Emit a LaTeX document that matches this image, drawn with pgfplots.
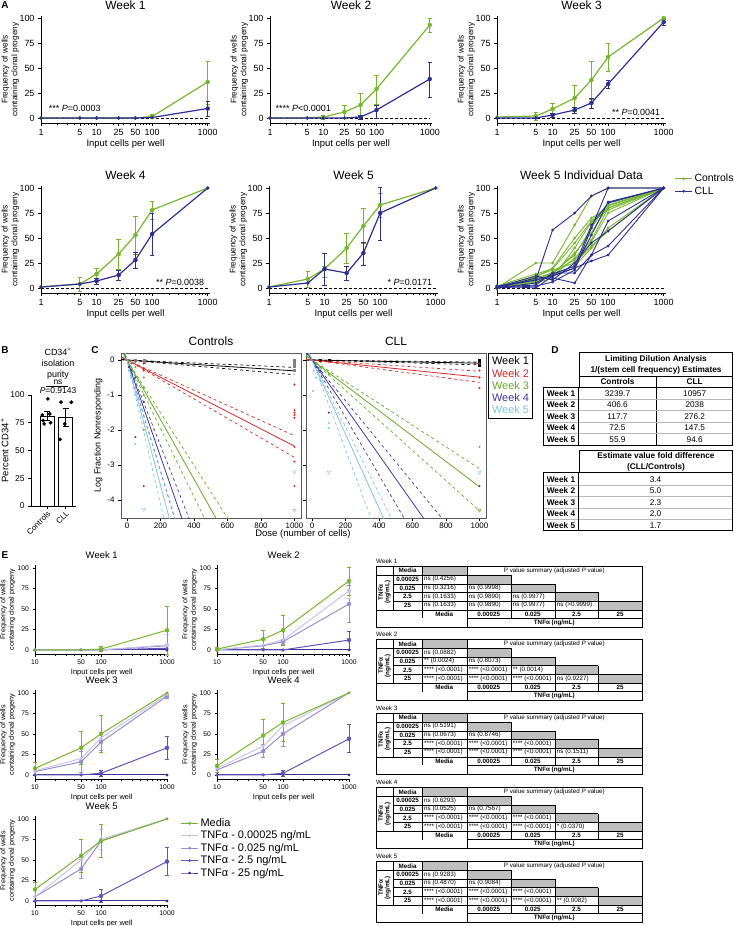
\documentclass[border=0pt]{standalone}
\usepackage{pgfplots}
\pgfplotsset{compat=1.18}
\usepackage{fontspec}
\setmainfont{Liberation Sans}

\definecolor{cgreen}{RGB}{118,182,46}
\definecolor{cblue}{RGB}{44,46,145}
\definecolor{cred}{RGB}{215,40,40}
\definecolor{cw3}{RGB}{100,170,40}
\definecolor{cw4}{RGB}{60,55,160}
\definecolor{cw5}{RGB}{130,195,230}
\definecolor{tA}{RGB}{200,195,232}
\definecolor{tB}{RGB}{150,140,210}
\definecolor{tC}{RGB}{95,85,185}
\definecolor{tD}{RGB}{55,48,150}

\newcommand\fs[1]{\fontsize{#1}{#1}\selectfont}
\newcommand\Df{\fontsize{8.3}{9}\selectfont}
\newcommand\Ef{\fontsize{6.3}{6.5}\selectfont}
\newcommand\Ec[3]{\node[anchor=west,inner sep=0,font=\Ef] at (#1,#2) {#3};}

\newcommand\Etable[3]{%
\begin{scope}[x=1bp,y=-1bp,yshift=-#1bp]
\fill[gray!50] (422,0) rectangle (466.7,9);
\fill[gray!50] (466.7,9) rectangle (510.7,17.7);
\fill[gray!50] (510.7,17.7) rectangle (554.7,26.3);
\fill[gray!50] (554.7,26.3) rectangle (598.3,35);
\fill[gray!50] (598.3,35) rectangle (642,43.7);
\draw[line width=0.5pt] (376,0) rectangle (642,61.3);
\draw[line width=0.4pt] (393.3,0)--(393.3,43.7) (422,0)--(422,52.3) (466.7,0)--(466.7,61.3)
  (510.7,9)--(510.7,52.3) (554.7,17.7)--(554.7,52.3) (598.3,26.3)--(598.3,52.3)
  (376,9)--(510.7,9) (393.3,17.7)--(554.7,17.7) (393.3,26.3)--(598.3,26.3)
  (393.3,35)--(642,35) (376,43.7)--(642,43.7) (466.7,52.3)--(642,52.3);
\node[inner sep=0,font=\Ef\bfseries] at (407.6,4.5) {Media};
\node[inner sep=0,font=\Ef] at (554.3,4.5) {P value summary (adjusted \textit{P} value)};
\node[inner sep=0,font=\Ef\bfseries] at (407.6,13.35) {0.00025};
\node[inner sep=0,font=\Ef\bfseries] at (407.6,22) {0.025};
\node[inner sep=0,font=\Ef\bfseries] at (407.6,30.65) {2.5};
\node[inner sep=0,font=\Ef\bfseries] at (407.6,39.35) {25};
\node[inner sep=0,font=\Ef\bfseries] at (444.3,48) {Media};
\node[inner sep=0,font=\Ef\bfseries] at (488.7,48) {0.00025};
\node[inner sep=0,font=\Ef\bfseries] at (532.7,48) {0.025};
\node[inner sep=0,font=\Ef\bfseries] at (576.5,48) {2.5};
\node[inner sep=0,font=\Ef\bfseries] at (620.1,48) {25};
\node[inner sep=0,font=\Ef\bfseries] at (554.3,56.8) {TNFα (ng/mL)};
\node[inner sep=0,font=\Ef\bfseries,rotate=90,align=center] at (384.6,26.3) {TNFα\\(ng/mL)};
\node[anchor=west,inner sep=0,font=\Ef] at (376,-5) {#2};
#3
\end{scope}}

\newenvironment{Aax}[1]{\begin{axis}[
   scale only axis, width=169bp, height=107bp,
   xmode=log, xmin=1, xmax=1100, ymin=-5, ymax=102,
   axis x line*=bottom, axis y line*=left,
   axis line style={line width=0.8pt,-},
   xtick={1,5,10,25,50,100,1000}, xticklabels={1,5,10,25,50,100,1000},
   minor xtick={2,3,4,6,7,8,9,20,30,40,60,70,80,90,200,300,400,500,600,700,800,900},
   ytick={0,25,50,75,100},
   tick align=outside, major tick length=3bp, minor tick length=1.8bp,
   tick style={black,line width=0.6pt},
   tick label style={font=\fs{9}},
   xlabel={Input cells per well}, xlabel style={font=\fs{9.5}, yshift=3bp},
   ylabel={Frequency of wells\\containing clonal progeny},
   ylabel style={align=center, font=\fontsize{8.3}{9.8}\selectfont, yshift=-6.5bp},
   title style={font=\fs{12}, yshift=-3bp},
   /pgf/number format/assume math mode=true,
   clip=false, #1]}{\end{axis}}

\newenvironment{Cax}[1]{\begin{axis}[scale only axis, width=180bp, height=165bp,
   xmin=-36, xmax=1039, ymin=-4.51, ymax=0.2,
   axis line style={draw=gray!70!black, line width=0.9pt},
   xtick={0,200,400,600,800,1000}, ytick={0,-1,-2,-3,-4},
   xtick pos=bottom, ytick pos=left, tick align=outside, major tick length=3bp,
   tick style={black,line width=0.6pt},
   tick label style={font=\fs{8}}, xticklabel style={yshift=1.5bp},
   title style={font=\fs{12}, yshift=-2bp},
   /pgf/number format/1000 sep={},
   /pgf/number format/assume math mode=true, #1]}{\end{axis}}

\newenvironment{Eax}[1]{\begin{axis}[scale only axis, width=133.4bp, height=88.6bp,
   xmode=log, xmin=10, xmax=1050, ymin=-5, ymax=103,
   axis x line*=bottom, axis y line*=left, axis line style={line width=0.6pt,-},
   xtick={10,50,100,1000}, xticklabels={10,50,100,1000},
   minor xtick={20,30,40,60,70,80,90,200,300,400,500,600,700,800,900},
   ytick={0,25,50,75,100},
   tick align=outside, major tick length=2.5bp, minor tick length=1.5bp,
   tick style={black,line width=0.5pt},
   tick label style={font=\fs{6.8}},
   xlabel={Input cells per well}, xlabel style={font=\fs{7.5}, yshift=3bp},
   ylabel={Frequency of wells\\containing clonal progeny},
   ylabel style={align=center, font=\fontsize{7.2}{8.5}\selectfont, yshift=-4.5bp},
   title style={font=\fs{9.5}, yshift=-3bp},
   /pgf/number format/assume math mode=true, clip=false, #1]}{\end{axis}}

\pgfplotsset{
 Ag/.style={cgreen, line width=1.2pt, mark=*, mark size=1.1pt},
 Au/.style={cblue, line width=1.2pt, mark=*, mark size=1.1pt},
 Ae/.style={forget plot, only marks, mark=none, /pgfplots/error bars/y dir=both, /pgfplots/error bars/y explicit,
   /pgfplots/error bars/error bar style={line width=1pt},
   /pgfplots/error bars/error mark options={rotate=90, mark size=2.2pt, line width=1pt}},
 zl/.style={black, densely dashed, line width=0.5pt, mark=none, forget plot},
 Ig/.style={cgreen, line width=0.9pt, mark=*, mark size=0.9pt, forget plot},
 Iu/.style={cblue, line width=0.9pt, mark=*, mark size=0.9pt, forget plot},
 Cs/.style={line width=0.8pt, mark=none},
 Cd/.style={line width=0.7pt, dashed, mark=none, forget plot},
 Cp/.style={only marks, mark=*, mark size=0.8pt, forget plot},
 Ct/.style={only marks, mark=triangle, mark size=2pt, mark options={rotate=180}, forget plot},
 Es/.style={line width=1pt, mark=*, mark size=0.9pt},
 Ee/.style={forget plot, only marks, mark=none, /pgfplots/error bars/y dir=both, /pgfplots/error bars/y explicit,
   /pgfplots/error bars/error bar style={line width=0.8pt},
   /pgfplots/error bars/error mark options={rotate=90, mark size=1.8pt, line width=0.8pt}},
}

\begin{document}
\begin{tikzpicture}
\useasboundingbox (0bp,0bp) rectangle (734bp,-926bp);

% ---------------- Panel A ----------------
\node[font=\bfseries\fs{10}] at (5bp,-5bp) {A};

\begin{Aax}{title={Week 1}, at={(41bp,-123bp)}, anchor=south west}
\addplot[zl] coordinates {(1,0) (1000,0)};
\addplot[Ag] coordinates {(1,0) (5,0) (10,0) (25,0) (50,0) (100,1.5) (1000,36)};
\addplot[cgreen, Ae] coordinates {(100,1.5) +- (0,2) (1000,36) += (0,21) -= (0,22)};
\addplot[Au] coordinates {(1,0) (5,0) (10,0) (25,0) (50,0) (100,0.5) (1000,9.5)};
\addplot[cblue, Ae] coordinates {(1000,9.5) +- (0,7.5)};
\node[anchor=west, font=\fs{9}] at (axis cs:1.2,10) {*** \textit{P}=0.0003};
\end{Aax}

\begin{Aax}{width=162bp, title={Week 2}, at={(270bp,-123bp)}, anchor=south west}
\addplot[zl] coordinates {(1,0) (1000,0)};
\addplot[Ag] coordinates {(1,0) (5,0) (10,1) (25,6) (50,13) (100,29) (1000,93)};
\addplot[cgreen, Ae] coordinates {(10,1) +- (0,2) (25,6) += (0,7) -= (0,6) (50,13) +- (0,12) (100,29) += (0,14) -= (0,15) (1000,93) +- (0,7)};
\addplot[Au] coordinates {(1,0) (5,0) (10,0) (25,0) (50,1) (100,8) (1000,39)};
\addplot[cblue, Ae] coordinates {(50,1) +- (0,2) (100,8) += (0,5) -= (0,8) (1000,39) += (0,17) -= (0,18)};
\node[anchor=west, font=\fs{9}] at (axis cs:1.1,10) {**** \textit{P}<0.0001};
\end{Aax}

\begin{Aax}{title={Week 3}, at={(497bp,-123bp)}, anchor=south west}
\addplot[zl] coordinates {(1,0) (1000,0)};
\addplot[Ag] coordinates {(1,1) (5,2) (10,9) (25,20) (50,38) (100,61) (1000,100)};
\addplot[cgreen, Ae] coordinates {(5,2) +- (0,4) (10,9) +- (0,6) (25,20) +- (0,13) (50,38) +- (0,19) (100,61) +- (0,14) (1000,100) +- (0,1)};
\addplot[Au] coordinates {(1,0) (5,0) (10,3) (25,8) (50,15) (100,34) (1000,96)};
\addplot[cblue, Ae] coordinates {(10,3) +- (0,2) (25,8) +- (0,3) (50,15) +- (0,5) (100,34) +- (0,4) (1000,96) +- (0,3)};
\node[anchor=east, font=\fs{9}] at (axis cs:1000,6) {** \textit{P}=0.0041};
\end{Aax}

\begin{Aax}{title={Week 4}, at={(41bp,-293bp)}, anchor=south west}
\addplot[zl] coordinates {(1,0) (1000,0)};
\addplot[Ag] coordinates {(1,1) (5,4) (10,14) (25,34) (50,53) (100,78) (1000,100)};
\addplot[cgreen, Ae] coordinates {(5,4) +- (0,7) (10,14) +- (0,6) (25,34) +- (0,15) (50,53) +- (0,19) (100,78) +- (0,9)};
\addplot[Au] coordinates {(1,1) (5,4) (10,7) (25,13) (50,28) (100,54) (1000,100)};
\addplot[cblue, Ae] coordinates {(10,7) +- (0,3) (25,13) +- (0,5) (50,28) +- (0,8) (100,54) +- (0,21)};
\node[anchor=east, font=\fs{9}] at (axis cs:1000,6) {** \textit{P}=0.0038};
\end{Aax}

\begin{Aax}{title={Week 5}, at={(269bp,-293bp)}, anchor=south west}
\addplot[zl] coordinates {(1,0) (1000,0)};
\addplot[Ag] coordinates {(1,1) (5,9) (10,19) (25,40) (50,62) (100,83) (1000,100)};
\addplot[cgreen, Ae] coordinates {(5,9) +- (0,8) (10,19) += (0,3) -= (0,8) (25,40) +- (0,15) (50,62) += (0,18) -= (0,17) (100,83) += (0,12) -= (0,12)};
\addplot[Au] coordinates {(1,1) (5,5) (10,19) (25,15) (50,35) (100,75) (1000,100)};
\addplot[cblue, Ae] coordinates {(10,19) +- (0,16) (25,15) +- (0,7) (50,35) += (0,11) -= (0,12) (100,75) += (0,26) -= (0,27)};
\node[anchor=east, font=\fs{9}] at (axis cs:1000,6) {* \textit{P}=0.0171};
\end{Aax}

\begin{Aax}{title={Week 5 Individual Data},
  legend style={at={(1.05,1.13)}, anchor=north west, draw=none, fill=none, font=\fs{10.5}, row sep=-0.5bp, inner sep=0pt},
  legend cell align=left, at={(497bp,-293bp)}, anchor=south west}
\addplot[zl] coordinates {(1,0) (1000,0)};
\addplot[cgreen, line width=0.9pt, mark=*, mark size=0.9pt] coordinates {(1,0) (5,25) (10,25) (25,63) (50,92) (100,100) (1000,100)};
\addlegendentry{Controls}
\addplot[Ig] coordinates {(1,2) (5,14) (10,19) (25,45) (50,67) (100,83) (1000,100)};
\addplot[Ig] coordinates {(1,0) (5,10) (10,15) (25,33) (50,60) (100,85) (1000,100)};
\addplot[Ig] coordinates {(1,1) (5,8) (10,12) (25,30) (50,48) (100,80) (1000,100)};
\addplot[Ig] coordinates {(1,0) (5,12) (10,18) (25,25) (50,42) (100,57) (1000,100)};
\addplot[Ig] coordinates {(1,0) (5,5) (10,10) (25,40) (50,66) (100,78) (1000,100)};
\addplot[Ig] coordinates {(1,2) (5,9) (10,14) (25,35) (50,55) (100,82) (1000,100)};
\addplot[Ig] coordinates {(1,0) (5,7) (10,16) (25,28) (50,46) (100,75) (1000,100)};
\addplot[Ig] coordinates {(1,1) (5,11) (10,20) (25,50) (50,70) (100,80) (1000,100)};
\addplot[Ig] coordinates {(1,0) (5,6) (10,13) (25,22) (50,40) (100,60) (1000,100)};
\addplot[cblue, line width=0.9pt, mark=*, mark size=0.9pt] coordinates {(1,1) (5,8) (10,58) (25,75) (50,92) (100,100) (1000,100)};
\addlegendentry{CLL}
\addplot[Iu] coordinates {(1,2) (5,0) (10,12) (25,20) (50,53) (100,86) (1000,100)};
\addplot[Iu] coordinates {(1,1) (5,3) (10,15) (25,15) (50,33) (100,67) (1000,100)};
\addplot[Iu] coordinates {(1,0) (5,10) (10,10) (25,5) (50,33) (100,42) (1000,100)};
\addplot[Iu] coordinates {(1,2) (5,8) (10,12) (25,20) (50,27) (100,33) (1000,100)};
\addplot[Iu] coordinates {(1,0) (5,5) (10,14) (25,22) (50,63) (100,85) (1000,100)};
\addplot[Iu] coordinates {(1,1) (5,12) (10,8) (25,25) (50,45) (100,57) (1000,100)};
\addplot[Iu] coordinates {(1,0) (5,2) (10,6) (25,18) (50,60) (100,100) (1000,100)};
\end{Aax}

% ---------------- Panel B ----------------
\node[font=\bfseries\fs{10}] at (5bp,-350bp) {B};
\node[font=\fontsize{9}{11}\selectfont, align=center] at (58bp,-364bp) {CD34\textsuperscript{+}\\isolation\\purity};
\node[font=\fs{8.5}] at (58bp,-382.5bp) {ns};
\draw[line width=0.6pt] (46bp,-386.5bp) -- (68bp,-386.5bp);
\node[font=\fs{8.5}] at (58bp,-390.5bp) {\textit{P}=0.9143};
\begin{axis}[scale only axis, width=45bp, height=111bp,
  xmin=0.15, xmax=2.55, ymin=0, ymax=100,
  axis x line*=bottom, axis y line*=left, axis line style={line width=0.8pt,-},
  xtick={1,2}, xticklabels={Controls,CLL},
  xticklabel style={rotate=45, anchor=north east, font=\fs{8}, inner sep=1pt},
  ytick={0,25,50,75,100}, yticklabel style={font=\fs{8.5}},
  tick align=outside, major tick length=3bp, tick style={black,line width=0.6pt},
  ylabel={Percent CD34\textsuperscript{+}}, ylabel style={font=\fs{9.5}, yshift=-5bp},
  clip=false, /pgf/number format/assume math mode=true,
  at={(31bp,-506bp)}, anchor=south west]
\addplot[ybar, bar width=14bp, fill=white, draw=black, line width=0.8pt,
  /pgfplots/error bars/y dir=both, /pgfplots/error bars/y explicit,
  /pgfplots/error bars/error bar style={line width=0.8pt},
  /pgfplots/error bars/error mark options={rotate=90, mark size=3pt, line width=0.8pt}]
  coordinates {(1,81) +- (0,4) (2,80) +- (0,8)};
\addplot[only marks, mark=*, mark size=1.7pt, black] coordinates {(1.05,96.5) (0.75,82) (1.15,83) (0.8,77) (0.85,74) (1.2,75)};
\addplot[only marks, mark=*, mark size=1.7pt, black] coordinates {(1.75,93.5) (2.3,93.5) (1.95,74) (1.7,60)};
\end{axis}

% ---------------- Panel C ----------------
\node[font=\bfseries\fs{10}] at (95bp,-350bp) {C};
\begin{Cax}{title={Controls},
  ylabel={Log Fraction Nonresponding}, ylabel style={font=\fs{9}, yshift=-2bp},
  at={(121bp,-518bp)}, anchor=south west}
\addplot[black, Cs] coordinates {(-36,0.011) (1000,-0.309)};
\addplot[black, Cd] coordinates {(-36,0.008) (1000,-0.21)};
\addplot[black, Cd] coordinates {(-36,0.015) (1000,-0.42)};
\addplot[cred, Cs] coordinates {(-36,0.089) (1000,-2.46)};
\addplot[cred, Cd] coordinates {(-36,0.078) (1000,-2.16)};
\addplot[cred, Cd] coordinates {(-36,0.1) (1000,-2.78)};
\addplot[cw3, Cs] coordinates {(-36,0.306) (541,-4.6)};
\addplot[cw3, Cd] coordinates {(-36,0.27) (612,-4.6)};
\addplot[cw3, Cd] coordinates {(-36,0.35) (471,-4.6)};
\addplot[cw4, Cs] coordinates {(-36,0.497) (333.5,-4.6)};
\addplot[cw4, Cd] coordinates {(-36,0.44) (377,-4.6)};
\addplot[cw4, Cd] coordinates {(-36,0.57) (290,-4.6)};
\addplot[cw5, Cs] coordinates {(-36,0.644) (257,-4.6)};
\addplot[cw5, Cd] coordinates {(-36,0.57) (291,-4.6)};
\addplot[cw5, Cd] coordinates {(-36,0.74) (224,-4.6)};
\addplot[gray, Cp, mark=square*, mark size=1pt] coordinates {(1000,0) (1000,-0.1) (1000,-0.19) (1000,-0.29) (100,0) (100,-0.05) (50,0)};
\addplot[cred, Cp] coordinates {(50,-0.05) (100,-0.1) (100,-0.25) (100,-0.3) (1000,-0.7) (1000,-1.43) (1000,-1.5) (1000,-1.57) (1000,-1.65) (1000,-2.48) (1000,-2.9) (1000,-3.6)};
\addplot[cw3, Cp] coordinates {(10,0) (25,-0.1) (50,-0.2) (100,-0.5) (100,-0.8) (100,-1.0) (100,-2.0)};
\addplot[cw4, Cp] coordinates {(10,-0.2) (25,-0.3) (50,-0.5) (50,-2.2) (100,-1.2) (100,-3.6)};
\addplot[cw5, Cp] coordinates {(10,-0.3) (25,-0.5) (50,-1.0) (50,-2.4) (100,-1.8)};
\addplot[cw5, Ct] coordinates {(100,-4.26) (1000,-3.19) (1000,-4.29)};
\end{Cax}

\begin{Cax}{title={CLL}, yticklabels={},
  legend style={at={(1.012,1)}, anchor=north west, draw=black, line width=0.8pt, font=\fs{11},
    row sep=-1.2bp, inner sep=1.5bp},
  legend cell align=left, legend image code/.code={},
  at={(306bp,-518bp)}, anchor=south west}
\addplot[black, Cs] coordinates {(-36,0.003) (1000,-0.091)};
\addlegendentry{\textcolor{black}{Week 1}}
\addplot[cred, Cs] coordinates {(-36,0.018) (1000,-0.49)};
\addlegendentry{\textcolor{cred}{Week 2}}
\addplot[cw3, Cs] coordinates {(-36,0.13) (1000,-3.62)};
\addlegendentry{\textcolor{cw3}{Week 3}}
\addplot[cw4, Cs] coordinates {(-36,0.244) (678.5,-4.6)};
\addlegendentry{\textcolor{cw4}{Week 4}}
\addplot[cw5, Cs] coordinates {(-36,0.38) (435,-4.6)};
\addlegendentry{\textcolor{cw5}{Week 5}}
\addplot[black, Cd] coordinates {(-36,0.002) (1000,-0.06)};
\addplot[black, Cd] coordinates {(-36,0.005) (1000,-0.14)};
\addplot[cred, Cd] coordinates {(-36,0.012) (1000,-0.32)};
\addplot[cred, Cd] coordinates {(-36,0.023) (1000,-0.64)};
\addplot[cw3, Cd] coordinates {(-36,0.11) (1000,-3.1)};
\addplot[cw3, Cd] coordinates {(-36,0.15) (1000,-4.3)};
\addplot[cw4, Cd] coordinates {(-36,0.21) (790,-4.6)};
\addplot[cw4, Cd] coordinates {(-36,0.3) (560,-4.6)};
\addplot[cw5, Cd] coordinates {(-36,0.34) (483,-4.6)};
\addplot[cw5, Cd] coordinates {(-36,0.46) (359,-4.6)};
\addplot[black, Cp, mark=square*, mark size=1pt] coordinates {(1000,0) (1000,-0.05) (1000,-0.1) (1000,-0.15) (100,0) (50,0)};
\addplot[cred, Cp] coordinates {(50,-0.05) (100,-0.05) (1000,-0.1) (1000,-0.3) (1000,-0.5) (1000,-0.8)};
\addplot[cw3, Cp] coordinates {(25,-0.1) (50,-0.2) (100,-0.4) (1000,-2.48)};
\addplot[cw3, Ct] coordinates {(1000,-4.29)};
\addplot[cw4, Cp] coordinates {(25,-0.2) (50,-0.3) (100,-1.5) (1000,-3.6)};
\addplot[cw5, Cp] coordinates {(10,-0.3) (25,-0.5) (50,-0.6) (100,-1.8) (100,-1.94) (5,-0.88)};
\addplot[cw5, Ct] coordinates {(100,-3.2) (1000,-3.2)};
\end{Cax}
\node[font=\fs{9.5}] at (303bp,-534.5bp) {Dose (number of cells)};

% ---------------- Panel D ----------------
\node[font=\bfseries\fs{10}] at (555bp,-350bp) {D};
\begin{scope}[x=1bp,y=-1bp]
\draw[line width=0.8pt] (579.3,352.3) rectangle (732.7,387.3);
\draw[line width=0.6pt] (579.3,376) -- (732.7,376);
\draw[line width=0.6pt] (656.7,376) -- (656.7,445.7);
\foreach \yy in {399,410.5,422,433.5} \draw[gray!55, line width=0.9pt] (543.3,\yy) -- (732.7,\yy);
\draw[line width=0.8pt] (543.3,387.3) rectangle (732.7,445.7);
\draw[line width=0.6pt] (578.3,387.3) -- (578.3,445.7);
\node[inner sep=0,font=\Df\bfseries] at (656,359.2) {Limiting Dilution Analysis};
\node[inner sep=0,font=\Df\bfseries] at (656,370.7) {1/(stem cell frequency) Estimates};
\node[inner sep=0,font=\Df\bfseries] at (617.5,381.7) {Controls};
\node[inner sep=0,font=\Df\bfseries] at (694.7,381.7) {CLL};
\foreach \wk/\va/\vb/\yy in {1/3239.7/10957/393.3, 2/406.6/2038/404.8, 3/117.7/276.2/416.3, 4/72.5/147.5/427.8, 5/55.9/94.6/439.3} {
  \node[inner sep=0,font=\Df\bfseries] at (561,\yy) {Week \wk};
  \node[inner sep=0,font=\Df] at (617.5,\yy) {\va};
  \node[inner sep=0,font=\Df] at (694.7,\yy) {\vb};
}
\draw[line width=0.8pt] (579.3,450) rectangle (732.7,472.7);
\foreach \yy in {485,496.5,508,519.5} \draw[gray!55, line width=0.9pt] (543.3,\yy) -- (732.7,\yy);
\draw[line width=0.8pt] (543.3,472.7) rectangle (732.7,530.7);
\draw[line width=0.6pt] (578.3,472.7) -- (578.3,530.7);
\node[inner sep=0,font=\Df\bfseries] at (656,456) {Estimate value fold difference};
\node[inner sep=0,font=\Df\bfseries] at (656,467.3) {(CLL/Controls)};
\foreach \wk/\va/\yy in {1/3.4/479.3, 2/5.0/490.9, 3/2.3/502.4, 4/2.0/513.9, 5/1.7/525.4} {
  \node[inner sep=0,font=\Df\bfseries] at (561,\yy) {Week \wk};
  \node[inner sep=0,font=\Df] at (655.5,\yy) {\va};
}
\end{scope}

% ---------------- Panel E ----------------
\node[font=\bfseries\fs{10}] at (5bp,-555bp) {E};

\begin{Eax}{title={Week 1}, at={(35bp,-654bp)}, anchor=south west}
\addplot[tD, Es] coordinates {(10,0) (50,0) (100,0) (1000,0)};
\addplot[tC, Es] coordinates {(10,0) (50,0) (100,0) (1000,2)};
\addplot[tB, Es] coordinates {(10,0) (50,0) (100,0) (1000,5)};
\addplot[tA, Es] coordinates {(10,0) (50,0) (100,0) (1000,6)};
\addplot[tA, Ee] coordinates {(1000,6) +- (0,13)};
\addplot[cgreen, Es] coordinates {(10,0) (50,0) (100,1) (1000,24)};
\addplot[cgreen, Ee] coordinates {(100,1) +- (0,3) (1000,24) +- (0,29)};
\end{Eax}

\begin{Eax}{title={Week 2}, at={(217bp,-654bp)}, anchor=south west}
\addplot[tD, Es] coordinates {(10,0) (50,0) (100,0) (1000,0)};
\addplot[tC, Es] coordinates {(10,0) (50,0) (100,0) (1000,12)};
\addplot[tC, Ee] coordinates {(1000,12) +- (0,11)};
\addplot[tB, Es] coordinates {(10,0) (50,5) (100,10) (1000,56)};
\addplot[tB, Ee] coordinates {(100,10) +- (0,3) (1000,56) +- (0,23)};
\addplot[tA, Es] coordinates {(10,0) (50,6) (100,12) (1000,72)};
\addplot[tA, Ee] coordinates {(1000,72) +- (0,9)};
\addplot[cgreen, Es] coordinates {(10,1) (50,13) (100,24) (1000,84)};
\addplot[cgreen, Ee] coordinates {(10,1) +- (0,2) (50,13) +- (0,11) (100,24) +- (0,18) (1000,84) +- (0,17)};
\end{Eax}

\begin{Eax}{title={Week 3}, at={(35bp,-779bp)}, anchor=south west}
\addplot[tD, Es] coordinates {(10,0) (50,0) (100,0) (1000,0)};
\addplot[tC, Es] coordinates {(10,0) (50,0) (100,2) (1000,33)};
\addplot[tC, Ee] coordinates {(100,2) +- (0,4) (1000,33) +- (0,14)};
\addplot[tB, Es] coordinates {(10,4) (50,16) (100,40) (1000,96)};
\addplot[tB, Ee] coordinates {(50,16) +- (0,13) (100,40) +- (0,10) (1000,96) +- (0,3)};
\addplot[tA, Es] coordinates {(10,5) (50,20) (100,45) (1000,98)};
\addplot[cgreen, Es] coordinates {(10,8) (50,33) (100,50) (1000,100)};
\addplot[cgreen, Ee] coordinates {(10,8) +- (0,7) (50,33) +- (0,20) (100,50) +- (0,22)};
\end{Eax}

\begin{Eax}{title={Week 4}, at={(217bp,-779bp)}, anchor=south west}
\addplot[tD, Es] coordinates {(10,0) (50,0) (100,0) (1000,0)};
\addplot[tC, Es] coordinates {(10,0) (50,0) (100,2) (1000,44)};
\addplot[tC, Ee] coordinates {(100,2) +- (0,4) (1000,44) +- (0,17)};
\addplot[tB, Es] coordinates {(10,6) (50,29) (100,50) (1000,100)};
\addplot[tB, Ee] coordinates {(50,29) +- (0,8) (100,50) +- (0,15)};
\addplot[tA, Es] coordinates {(10,8) (50,35) (100,60) (1000,100)};
\addplot[cgreen, Es] coordinates {(10,11) (50,48) (100,64) (1000,100)};
\addplot[cgreen, Ee] coordinates {(10,11) +- (0,8) (50,48) +- (0,20) (100,64) +- (0,23)};
\end{Eax}

\begin{Eax}{title={Week 5}, reverse legend,
  legend style={at={(1.09,1.0)}, anchor=north west, draw=none, fill=none, font=\fs{11}, row sep=-1bp, inner sep=0pt},
  legend cell align=left, at={(35bp,-905bp)}, anchor=south west}
\addplot[tD, Es] coordinates {(10,0) (50,0) (100,0) (1000,0)};
\addlegendentry{TNFα - 25 ng/mL}
\addplot[tC, Es] coordinates {(10,0) (50,0) (100,6) (1000,48)};
\addlegendentry{TNFα - 2.5 ng/mL}
\addplot[tC, Ee] coordinates {(100,6) +- (0,8) (1000,48) +- (0,17)};
\addplot[tB, Es] coordinates {(10,5) (50,39) (100,73) (1000,100)};
\addlegendentry{TNFα - 0.025 ng/mL}
\addplot[tB, Ee] coordinates {(50,39) +- (0,12)};
\addplot[tA, Es] coordinates {(10,5) (50,50) (100,75) (1000,100)};
\addlegendentry{TNFα - 0.00025 ng/mL}
\addplot[tA, Ee] coordinates {(100,75) +- (0,12)};
\addplot[cgreen, Es] coordinates {(10,14) (50,55) (100,73) (1000,100)};
\addlegendentry{Media}
\addplot[cgreen, Ee] coordinates {(10,14) +- (0,8) (50,55) +- (0,20) (100,73) +- (0,20)};
\end{Eax}

% E tables
\Etable{566}{Week 1}{%
\Ec{424}{13.35}{ns (0.4256)}
\Ec{424}{22}{ns (0.3216)}\Ec{468.7}{22}{ns (0.9998)}
\Ec{424}{30.65}{ns (0.1633)}\Ec{468.7}{30.65}{ns (0.9890)}\Ec{512.7}{30.65}{ns (0.9977)}
\Ec{424}{39.35}{ns (0.1633)}\Ec{468.7}{39.35}{ns (0.9890)}\Ec{512.7}{39.35}{ns (0.9977)}\Ec{556.7}{39.35}{ns (>0.9999)}}
\Etable{639.3}{Week 2}{%
\Ec{424}{13.35}{ns (0.0882)}
\Ec{424}{22}{** (0.0024)}\Ec{468.7}{22}{ns (0.8073)}
\Ec{424}{30.65}{**** (<0.0001)}\Ec{468.7}{30.65}{**** (<0.0001)}\Ec{512.7}{30.65}{** (0.0014)}
\Ec{424}{39.35}{**** (<0.0001)}\Ec{468.7}{39.35}{**** (<0.0001)}\Ec{512.7}{39.35}{**** (<0.0001)}\Ec{556.7}{39.35}{ns (0.9227)}}
\Etable{713}{Week 3}{%
\Ec{424}{13.35}{ns (0.5191)}
\Ec{424}{22}{ns (0.0673)}\Ec{468.7}{22}{ns (0.8746)}
\Ec{424}{30.65}{**** (<0.0001)}\Ec{468.7}{30.65}{**** (<0.0001)}\Ec{512.7}{30.65}{**** (<0.0001)}
\Ec{424}{39.35}{**** (<0.0001)}\Ec{468.7}{39.35}{**** (<0.0001)}\Ec{512.7}{39.35}{**** (<0.0001)}\Ec{556.7}{39.35}{ns (0.1511)}}
\Etable{787.3}{Week 4}{%
\Ec{424}{13.35}{ns (0.6293)}
\Ec{424}{22}{ns (0.0525)}\Ec{468.7}{22}{ns (0.7567)}
\Ec{424}{30.65}{**** (<0.0001)}\Ec{468.7}{30.65}{**** (<0.0001)}\Ec{512.7}{30.65}{**** (<0.0001)}
\Ec{424}{39.35}{**** (<0.0001)}\Ec{468.7}{39.35}{**** (<0.0001)}\Ec{512.7}{39.35}{**** (<0.0001)}\Ec{556.7}{39.35}{* (0.0370)}}
\Etable{861.3}{Week 5}{%
\Ec{424}{13.35}{ns (0.9283)}
\Ec{424}{22}{ns (0.4870)}\Ec{468.7}{22}{ns (0.9084)}
\Ec{424}{30.65}{**** (<0.0001)}\Ec{468.7}{30.65}{**** (<0.0001)}\Ec{512.7}{30.65}{**** (<0.0001)}
\Ec{424}{39.35}{**** (<0.0001)}\Ec{468.7}{39.35}{**** (<0.0001)}\Ec{512.7}{39.35}{**** (<0.0001)}\Ec{556.7}{39.35}{** (0.0082)}}

\end{tikzpicture}
\end{document}
